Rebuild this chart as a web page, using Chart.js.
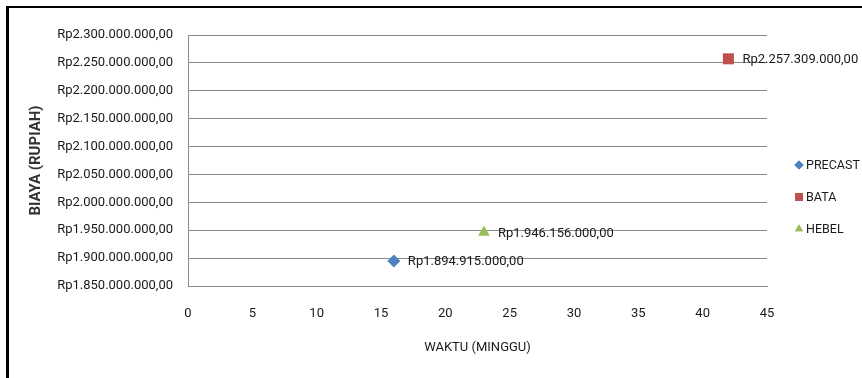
<!DOCTYPE html>
<html>
<head>
<meta charset="utf-8">
<script src="https://cdn.jsdelivr.net/npm/chart.js"></script>
<style>
  body { margin: 0; background: #fff; }
  #wrap { position: relative; width: 862px; height: 378px; }
  #frame {
    position: absolute; left: 6px; top: 6px; right: 0; bottom: 0;
    border-left: 3px solid #000; border-top: 2px solid #000;
    pointer-events: none;
  }
  canvas { position: absolute; left: 0; top: 0; }
</style>
</head>
<body>
<div id="wrap">
  <canvas id="costChart" width="862" height="378"></canvas>
  <div id="frame"></div>
</div>
<script>
// Data
const seriesNames = ['PRECAST', 'BATA', 'HEBEL'];
const weeks = [16, 42, 23];
const costs = [1894915000, 2257309000, 1946156000];
const colors = ['#4F81BD', '#C0504D', '#9BBB59'];
const shapes = ['rectRot', 'rect', 'triangle'];
const sizes = [6.5, 7.8, 6.8];

const fontName = "Roboto, 'Liberation Sans', sans-serif";

// Rp1.894.915.000,00
function rupiah(v) {
  let s = Math.round(v).toString().replace(/\B(?=(\d{3})+(?!\d))/g, '.');
  return 'Rp' + s + ',00';
}

// value labels next to each point
const pointLabels = {
  id: 'pointLabels',
  afterDatasetsDraw(chart) {
    const ctx = chart.ctx;
    ctx.save();
    ctx.font = '13px ' + fontName;
    ctx.fillStyle = '#1a1a1a';
    ctx.textBaseline = 'middle';
    ctx.textAlign = 'left';
    chart.data.datasets.forEach((ds, i) => {
      chart.getDatasetMeta(i).data.forEach((pt, j) => {
        ctx.fillText(rupiah(ds.data[j].y), pt.x + 14, pt.y + 1);
      });
    });
    ctx.restore();
  }
};

// legend on the right, Excel style
const sideLegend = {
  id: 'sideLegend',
  afterDraw(chart) {
    const ctx = chart.ctx;
    const x = chart.chartArea.right + 32;
    let y = 165;
    ctx.save();
    ctx.font = '12.5px ' + fontName;
    ctx.textBaseline = 'middle';
    chart.data.datasets.forEach((ds) => {
      ctx.fillStyle = ds.backgroundColor;
      Chart.helpers.drawPoint(ctx, {
        pointStyle: ds.pointStyle,
        radius: ds.pointStyle === 'rect' ? 5.6 : 4.6,
        rotation: 0,
        borderWidth: 0
      }, x, y);
      ctx.fill();
      ctx.fillStyle = '#1a1a1a';
      ctx.fillText(ds.label, x + 7, y + 1);
      y += 32;
    });
    ctx.restore();
  }
};

const datasets = seriesNames.map((name, i) => ({
  label: name,
  data: [{ x: weeks[i], y: costs[i] }],
  backgroundColor: colors[i],
  borderColor: colors[i],
  borderWidth: 0,
  pointStyle: shapes[i],
  pointRadius: sizes[i],
  pointHoverRadius: sizes[i]
}));

Chart.defaults.font.family = fontName;
Chart.defaults.color = '#1a1a1a';

new Chart(document.getElementById('costChart'), {
  type: 'scatter',
  data: { datasets: datasets },
  options: {
    responsive: false,
    animation: false,
    devicePixelRatio: 1,
    layout: { padding: { top: 35, right: 95, left: 0, bottom: 0 } },
    plugins: {
      legend: { display: false },
      tooltip: { enabled: false }
    },
    scales: {
      x: {
        type: 'linear',
        min: 0,
        max: 45,
        ticks: { stepSize: 5, padding: 20, font: { size: 13 } },
        grid: { display: false, drawTicks: false },
        border: { display: true, color: '#8a8a8a' },
        title: {
          display: true,
          text: 'WAKTU (MINGGU)',
          font: { size: 13 },
          padding: { top: 22, bottom: 22 }
        },
        afterFit(scale) { scale.height = 92; }
      },
      y: {
        min: 1850000000,
        max: 2300000000,
        ticks: {
          stepSize: 50000000,
          padding: 15,
          font: { size: 13 },
          callback: (v) => rupiah(v)
        },
        grid: { color: '#8a8a8a', drawTicks: false },
        border: { display: true, color: '#8a8a8a' },
        title: {
          display: true,
          text: 'BIAYA (RUPIAH)',
          font: { size: 15, weight: 'bold' },
          color: '#333',
          padding: { top: 27, bottom: 27 }
        },
        afterFit(scale) { scale.width = 188; }
      }
    }
  },
  plugins: [pointLabels, sideLegend]
});
</script>
</body>
</html>
